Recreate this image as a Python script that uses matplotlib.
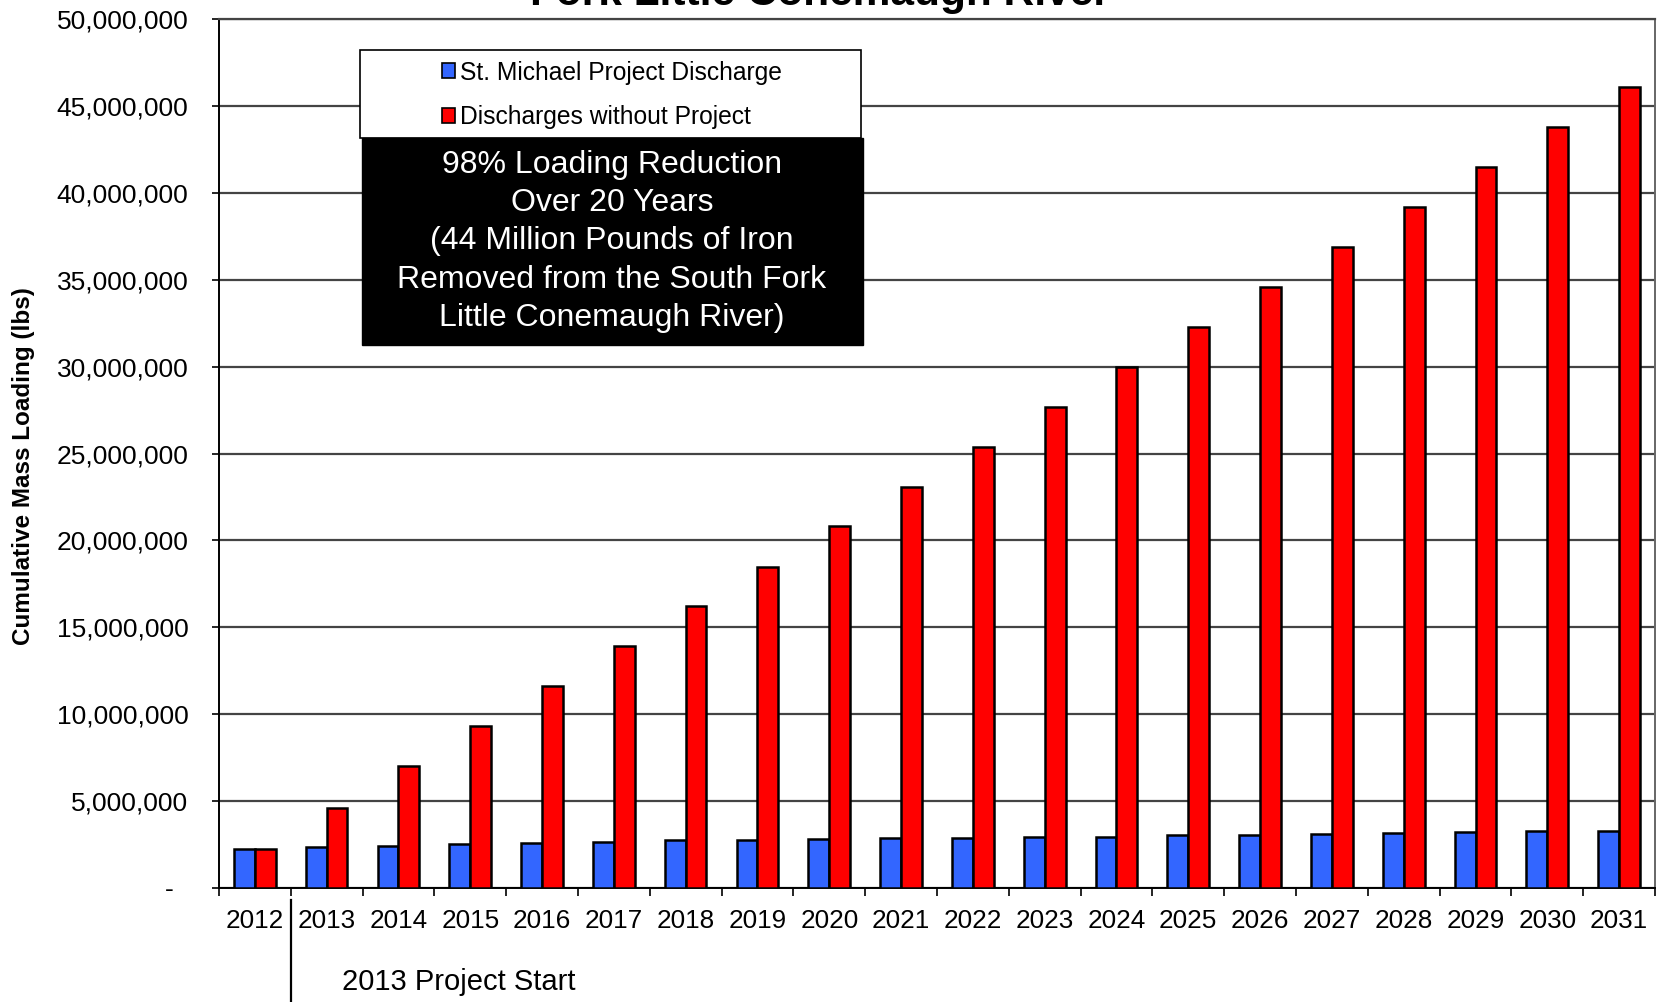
import numpy as np
import matplotlib
matplotlib.use("Agg")
import matplotlib.pyplot as plt
from matplotlib.patches import Rectangle, Patch
from matplotlib.ticker import FuncFormatter, MultipleLocator, FixedLocator
from matplotlib.transforms import blended_transform_factory

plt.rcParams['font.family'] = ['Liberation Sans', 'DejaVu Sans']

years = [str(y) for y in range(2012, 2032)]
with_project = [2.26, 2.35, 2.43, 2.51, 2.58, 2.66, 2.74, 2.76, 2.81, 2.87,
                2.89, 2.95, 2.96, 3.02, 3.03, 3.12, 3.19, 3.20, 3.26, 3.27]
without_project = [2.26, 4.59, 7.01, 9.30, 11.60, 13.90, 16.20, 18.45, 20.80, 23.10,
                   25.40, 27.70, 30.00, 32.30, 34.60, 36.90, 39.20, 41.50, 43.80, 46.10]
with_project = np.array(with_project) * 1e6
without_project = np.array(without_project) * 1e6

blue = "#3366FF"
red = "#FF0000"

fig = plt.figure(figsize=(16.6, 10.02), dpi=100)
ax = fig.add_axes([0.1319, 0.1138, 0.8651, 0.8672])

x = np.arange(len(years))
w = 0.29
ax.bar(x - w/2, with_project, w, color=blue, edgecolor="black", lw=1.8, zorder=3)
ax.bar(x + w/2, without_project, w, color=red, edgecolor="black", lw=1.8, zorder=3)

ax.set_xlim(-0.5, len(years) - 0.5)
ax.set_ylim(0, 50e6)

ax.yaxis.set_major_locator(MultipleLocator(5e6))
ax.yaxis.set_major_formatter(FuncFormatter(lambda v, p: "-  " if v == 0 else f"{int(v):,}"))
ax.yaxis.grid(True, color="#444444", lw=1.6, zorder=0)
ax.tick_params(axis="y", length=5, width=1.2, pad=17, labelsize=19)

ax.set_xticks(x)
ax.set_xticklabels(years)
ax.xaxis.set_minor_locator(FixedLocator(np.arange(-0.5, len(years), 1.0)))
ax.tick_params(axis="x", which="major", length=0, pad=15, labelsize=18.8)
ax.tick_params(axis="x", which="minor", length=6, width=1.2)

for s in ["left", "bottom"]:
    ax.spines[s].set_color("black")
    ax.spines[s].set_linewidth(1.4)
ax.spines["right"].set_color("#666666")
ax.spines["right"].set_linewidth(1.4)
ax.spines["top"].set_color("#444444")
ax.spines["top"].set_linewidth(1.6)

# project start marker below the axis
trans = blended_transform_factory(ax.transData, ax.transAxes)
ax.plot([0.5, 0.5], [-0.014, -0.14], transform=trans, color="black", lw=1.6, clip_on=False)
ax.text(1.21, -0.108, "2013 Project Start", transform=trans, ha="left", va="center", fontsize=21)

fig.text(0.014, 0.535, "Cumulative Mass Loading (lbs)", rotation=90, ha="center", va="center",
         fontsize=17.5, fontweight="bold")

# clipped title at the very top
fig.text(0.494, 0.995, "Fork Little Conemaugh River", ha="center", va="baseline",
         fontsize=30.5, fontweight="bold")

# legend box
fig.patches.append(Rectangle((360/1660, 1 - 138/1002), 501/1660, 88/1002, transform=fig.transFigure,
                             facecolor="white", edgecolor="black", lw=1.2, zorder=5))
handles = [Patch(facecolor=blue, edgecolor="black", lw=1.2),
           Patch(facecolor=red, edgecolor="black", lw=1.2)]
fig.legend(handles, ["St. Michael Project Discharge", "Discharges without Project"],
           loc="center", bbox_to_anchor=(612/1660, 1 - 95/1002), frameon=False,
           fontsize=17.7, handlelength=0.5, handleheight=0.55, handletextpad=0.2,
           labelspacing=0.85, borderpad=0)

# black annotation box
fig.patches.append(Rectangle((362/1660, 1 - 345/1002), 501/1660, 207/1002, transform=fig.transFigure,
                             facecolor="black", edgecolor="black", zorder=5))
fig.text(612/1660, 1 - 241.5/1002,
         "98% Loading Reduction\nOver 20 Years\n(44 Million Pounds of Iron\nRemoved from the South Fork\nLittle Conemaugh River)",
         ha="center", va="center", color="white", fontsize=23, linespacing=1.36, zorder=6)

plt.savefig("out.png", dpi=100)
